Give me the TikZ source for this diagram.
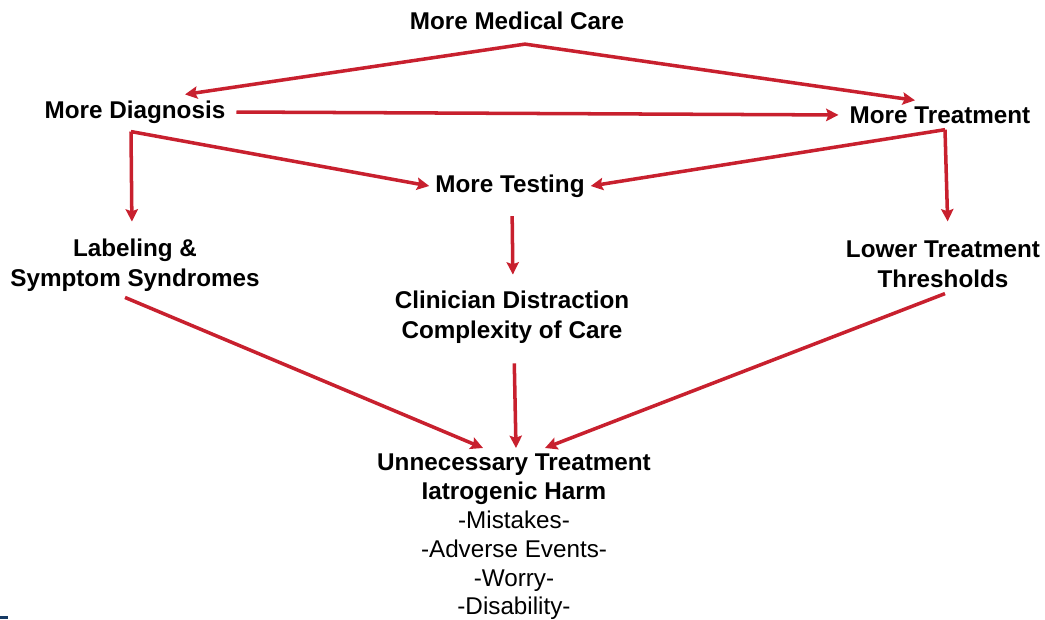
\documentclass[tikz,border=0pt]{standalone}
\usepackage{fontspec}
\setmainfont{Liberation Sans}
\usetikzlibrary{arrows.meta}
\definecolor{arrowred}{RGB}{200,32,46}
\definecolor{markblue}{RGB}{22,58,100}
\tikzset{
  lbl/.style={font=\fontsize{13.8}{17}\selectfont\bfseries, align=center},
  arr/.style={draw=arrowred, line width=2pt, -{Stealth[length=7pt,width=7pt,inset=1.2pt]}}
}
\begin{document}
\begin{tikzpicture}

 \useasboundingbox (0,0) rectangle (20.9,12.38);
 \fill[markblue] (0,0) rectangle (0.16,0.06);

 \node[lbl] (care) at (10.34,11.96) {More Medical Care};
 \node[lbl] (diag) at (2.70,10.14) {More Diagnosis};
 \node[lbl] (treat) at (18.80,10.08) {More Treatment};
 \node[lbl] (test) at (10.20,8.66) {More Testing};
 \node[lbl] (label) at (2.70,7.08) {Labeling \&\\Symptom Syndromes};
 \node[lbl] (clin) at (10.24,6.04) {Clinician Distraction\\Complexity of Care};
 \node[lbl] (lower) at (18.86,7.10) {Lower Treatment\\Thresholds};
 \node[lbl, anchor=north, font=\fontsize{13.8}{16.4}\selectfont\bfseries] (harm) at (10.28,3.42) {Unnecessary Treatment\\Iatrogenic Harm\\
   {\mdseries -Mistakes-}\\{\mdseries -Adverse Events-}\\{\mdseries -Worry-}\\{\mdseries -Disability-}};

 % top fan
 \draw[arr] ([xshift=0.16cm,yshift=-0.16cm]care.south) -- ([xshift=1cm]diag.north);
 \draw[arr] ([xshift=0.16cm,yshift=-0.16cm]care.south) -- ([xshift=-0.5cm]treat.north);
 \draw[arr, shorten <=0.1cm, shorten >=0.1cm] (diag.east) -- (treat.west);

 % to testing
 \draw[arr] ([xshift=-0.08cm,yshift=-0.04cm]diag.south) -- (test.west);
 \draw[arr] ([xshift=0.1cm]treat.south) -- (test.east);

 % down the sides
 \draw[arr, shorten >=0.22cm] ([xshift=-0.08cm,yshift=-0.04cm]diag.south) -- ([xshift=-0.06cm]label.north);
 \draw[arr, shorten >=0.26cm] ([xshift=0.1cm]treat.south) -- ([xshift=0.1cm]lower.north);
 \draw[arr, shorten <=0.25cm, shorten >=0.2cm] ([xshift=0.04cm]test.south) -- ([xshift=0.02cm]clin.north);

 % into harm
 \draw[arr] ([xshift=-0.2cm]label.south) -- ([xshift=-0.62cm]harm.north);
 \draw[arr, shorten <=0.28cm] ([xshift=0.04cm]clin.south) -- ([xshift=0.04cm]harm.north);
 \draw[arr] ([xshift=0.04cm]lower.south) -- ([xshift=0.62cm]harm.north);

\end{tikzpicture}
\end{document}
